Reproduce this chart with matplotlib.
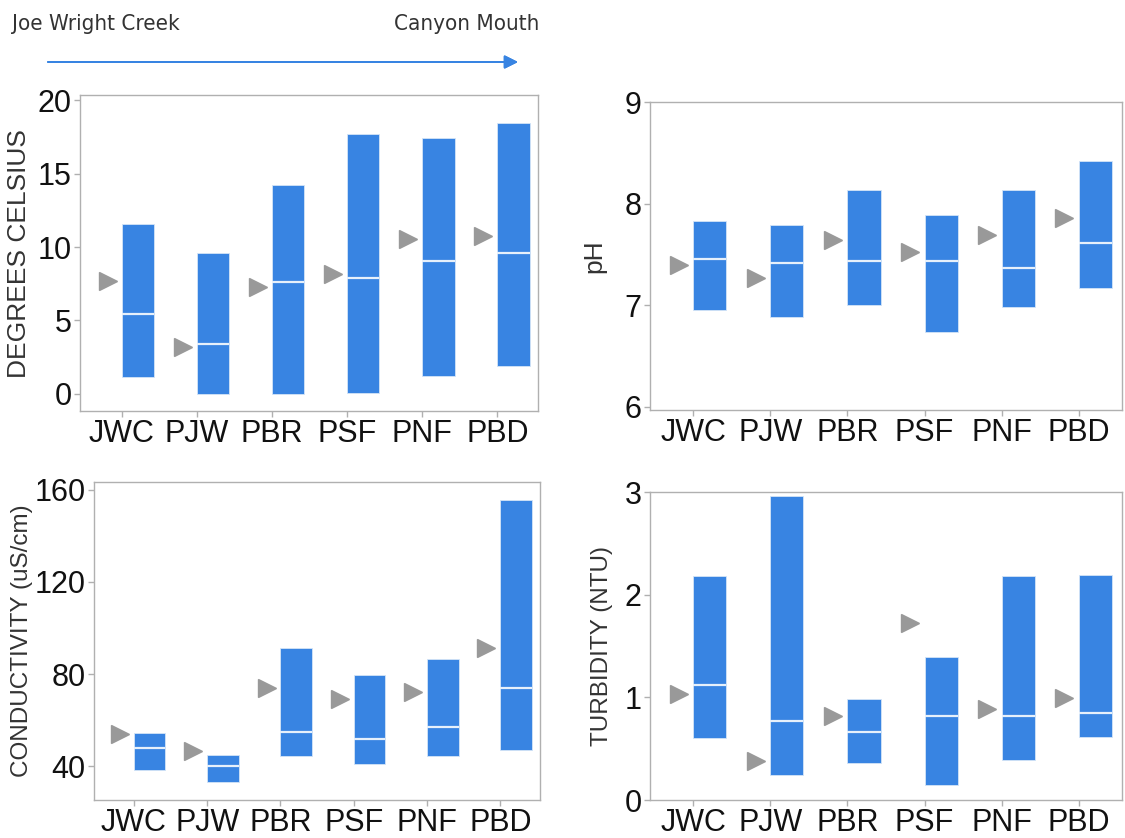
import matplotlib.pyplot as plt
from matplotlib import font_manager
from matplotlib.font_manager import FontProperties

# サイト
sites = ['JWC', 'PJW', 'PBR', 'PSF', 'PNF', 'PBD']

# 水温 (°C)
temp_min = [1.14, 0.0, 0.0, 0.05, 1.23, 1.91]
temp_max = [11.57, 9.59, 14.2, 17.7, 17.43, 18.47]
temp_med = [5.43, 3.39, 7.59, 7.89, 9.02, 9.59]
temp_mean = [7.7, 3.18, 7.25, 8.16, 10.57, 10.77]

# pH
ph_min = [6.95, 6.88, 7.00, 6.74, 6.98, 7.17]
ph_max = [7.83, 7.79, 8.13, 7.89, 8.13, 8.42]
ph_med = [7.45, 7.41, 7.43, 7.43, 7.37, 7.61]
ph_mean = [7.39, 7.27, 7.64, 7.52, 7.69, 7.86]

# 電気伝導度 (uS/cm)
cond_min = [38.3, 33.2, 44.3, 41.2, 44.3, 47.2]
cond_max = [54.6, 44.8, 91.4, 79.6, 86.6, 155.5]
cond_med = [48.1, 40.1, 55.0, 52.0, 57.0, 73.9]
cond_mean = [54.2, 46.6, 74.1, 69.3, 72.3, 91.1]

# 濁度 (NTU)
turb_min = [0.605, 0.24, 0.362, 0.142, 0.388, 0.615]
turb_max = [2.18, 2.96, 0.984, 1.388, 2.18, 2.19]
turb_med = [1.117, 0.773, 0.663, 0.819, 0.819, 0.845]
turb_mean = [1.03, 0.38, 0.816, 1.725, 0.887, 0.99]

# 色設定
bar_color = '#3884e2'
median_color = '#e6f0fb'
mean_color = '#999999'
frame_color = '#b0b0b0'
text_color = '#333333'

W, H = 1125, 838
fig = plt.figure(figsize=(W / 100, H / 100), dpi=100)
plt.rcParams['font.family'] = ['Liberation Sans', 'DejaVu Sans']


def px_axes(left, top, right, bottom):
    return fig.add_axes([left / W, 1 - bottom / H, (right - left) / W, (bottom - top) / H])


def draw_panel(ax, lo, hi, med, mean, ylim, yticks, xlim, ylabel, label_x, label_size):
    x = list(range(len(sites)))
    heights = [h - l for h, l in zip(hi, lo)]
    ax.bar(x, heights, bottom=lo, width=0.43, align='edge', color=bar_color,
           edgecolor='#d4e4f7', linewidth=0.6, zorder=2)
    ax.hlines(med, [i for i in x], [i + 0.43 for i in x], color=median_color, lw=1.6, zorder=3)
    ax.plot([i - 0.19 for i in x], mean, linestyle='none', marker='>', ms=13,
            color=mean_color, zorder=3)
    ax.set_xlim(*xlim)
    ax.set_ylim(*ylim)
    ax.set_yticks(yticks)
    ax.set_xticks(x)
    ax.set_xticklabels(sites)
    for s in ax.spines.values():
        s.set_color(frame_color)
        s.set_linewidth(1)
    ax.tick_params(colors=frame_color, length=4, width=1, labelsize=22,
                   labelcolor='#111111', pad=2)
    ax.set_ylabel(ylabel, fontsize=label_size, color=text_color)
    ax.yaxis.set_label_coords(label_x, 0.5)


ax1 = px_axes(80, 95.5, 538, 411)
draw_panel(ax1, temp_min, temp_max, temp_med, temp_mean, (-1.16, 20.31),
           [0, 5, 10, 15, 20], (-0.557, 5.54), 'DEGREES CELSIUS', (31 - 80) / 458, 19)

ax2 = px_axes(650, 102, 1122, 410)
draw_panel(ax2, ph_min, ph_max, ph_med, ph_mean, (5.967, 9.0),
           [6, 7, 8, 9], (-0.56, 5.56), 'pH', (606 - 650) / 472, 19)

ax3 = px_axes(94, 482, 540, 800)
draw_panel(ax3, cond_min, cond_max, cond_med, cond_mean, (25.4, 163.3),
           [40, 80, 120, 160], (-0.544, 5.54), 'CONDUCTIVITY (uS/cm)', (33 - 94) / 446, 17.5)

ax4 = px_axes(650, 492, 1122, 800)
draw_panel(ax4, turb_min, turb_max, turb_med, turb_mean, (0, 3),
           [0, 1, 2, 3], (-0.56, 5.56), 'TURBIDITY (NTU)', (613 - 650) / 472, 17.5)

# 上流→下流の表示 (細めの標準ウェイトのフォントがあれば使う)
fonts = font_manager.fontManager.ttflist
regular = [f for f in fonts if f.weight in (400, 'normal', 'regular') and f.style == 'normal']
lib_narrow = [f for f in regular if f.name == 'Liberation Sans Narrow']
condensed = [f for f in regular if 'Condensed' in f.fname or 'Condensed' in f.name]
if lib_narrow:
    head_font = FontProperties(fname=lib_narrow[0].fname, size=19)
elif condensed:
    head_font = FontProperties(fname=condensed[0].fname, size=16)
else:
    head_font = FontProperties(family='Roboto', size=15.5)
fig.text(12 / W, 1 - 30 / H, 'Joe Wright Creek', fontproperties=head_font,
         color=text_color, ha='left', va='baseline')
fig.text(539 / W, 1 - 30 / H, 'Canyon Mouth', fontproperties=head_font,
         color=text_color, ha='right', va='baseline')
fig.add_artist(plt.annotate('', xy=(518 / W, 1 - 62 / H), xytext=(48 / W, 1 - 62 / H),
                            xycoords='figure fraction', textcoords='figure fraction',
                            arrowprops=dict(arrowstyle='-|>', color=bar_color, lw=1.4,
                                            mutation_scale=20, shrinkA=0, shrinkB=0)))

fig.savefig('out.png', dpi=100)
